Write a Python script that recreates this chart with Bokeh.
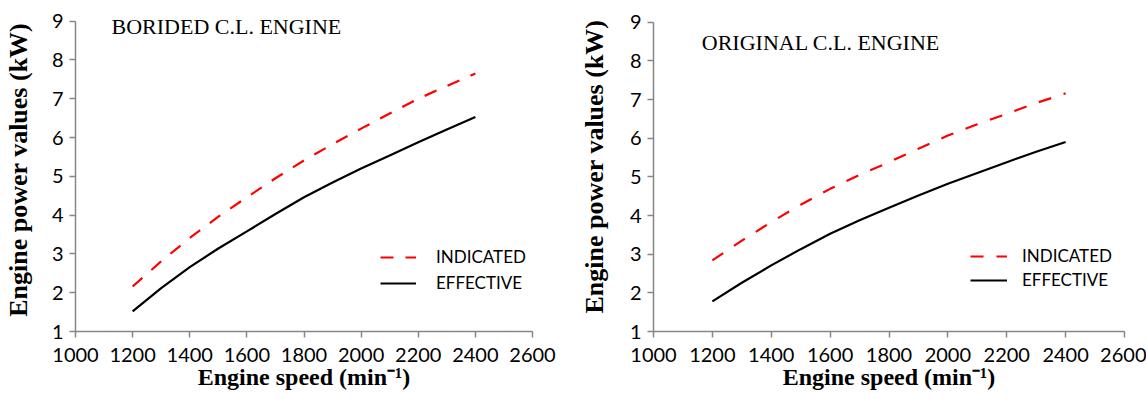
from bokeh.plotting import figure
from bokeh.models import Range1d, FixedTicker, Label, Legend, LegendItem
from bokeh.layouts import row
from bokeh.embed import file_html
from bokeh.resources import INLINE

speed = [1200, 1300, 1400, 1500, 1600, 1700, 1800, 1900, 2000, 2100, 2200, 2300, 2400]

borided_indicated = [2.16, 2.81, 3.41, 3.96, 4.46, 4.95, 5.41, 5.83, 6.23, 6.62, 7.00, 7.33, 7.65]
borided_effective = [1.52, 2.12, 2.66, 3.14, 3.58, 4.03, 4.46, 4.84, 5.20, 5.54, 5.88, 6.21, 6.53]

original_indicated = [2.84, 3.35, 3.83, 4.28, 4.69, 5.05, 5.38, 5.73, 6.07, 6.36, 6.63, 6.91, 7.16]
original_effective = [1.78, 2.26, 2.71, 3.13, 3.53, 3.88, 4.20, 4.52, 4.82, 5.10, 5.38, 5.65, 5.90]

x_ticks = [1000, 1200, 1400, 1600, 1800, 2000, 2200, 2400, 2600]
y_ticks = [1, 2, 3, 4, 5, 6, 7, 8, 9]

titles = ["BORIDED C.L. ENGINE", "ORIGINAL C.L. ENGINE"]
y_labels = ["Engine power values  (kW)", "Engine power values (kW)"]
x_label = "Engine speed (min\u207b\u00b9)"
series_names = ["INDICATED", "EFFECTIVE"]

AXIS_GRAY = "#868686"
TICK_FONT = "Lato"
SERIF = "Liberation Serif"


def make_panel(ind, eff, title, ylab, borders, y_top, title_pos, legend_loc,
               dash, glyph_w, standoff, spacing, ylab_standoff):
    bl, br = borders
    p = figure(width=573, height=399, output_backend="svg", toolbar_location=None,
               x_range=Range1d(1000, 2600), y_range=Range1d(1, y_top),
               min_border_left=bl, min_border_right=br,
               min_border_top=1, min_border_bottom=68)
    p.outline_line_color = None
    p.xgrid.visible = False
    p.ygrid.visible = False
    p.background_fill_color = "white"
    p.border_fill_color = "white"

    for ax in (p.xaxis[0], p.yaxis[0]):
        ax.axis_line_color = AXIS_GRAY
        ax.axis_line_width = 1.5
        ax.major_tick_line_color = AXIS_GRAY
        ax.major_tick_line_width = 1.5
        ax.minor_tick_line_color = None
        ax.major_tick_in = 0
        ax.major_tick_out = 6
        ax.major_label_text_font = TICK_FONT
        ax.major_label_text_font_size = "20px"
        ax.major_label_text_color = "black"
        ax.axis_label_text_font = SERIF
        ax.axis_label_text_font_style = "bold"
        ax.axis_label_text_color = "black"

    p.xaxis.axis_label_text_font_size = "24px"
    p.yaxis.axis_label_text_font_size = "26px"
    p.yaxis.bounds = (1, 9)
    p.xaxis.ticker = FixedTicker(ticks=x_ticks)
    p.yaxis.ticker = FixedTicker(ticks=y_ticks)
    p.xaxis.axis_label = x_label
    p.yaxis.axis_label = ylab
    p.xaxis.major_label_standoff = 10
    p.yaxis.major_label_standoff = 6
    p.xaxis.axis_label_standoff = -1
    p.yaxis.axis_label_standoff = ylab_standoff

    r_ind = p.line(speed, ind, line_color="#ff0000", line_width=2.2, line_dash=dash)
    r_eff = p.line(speed, eff, line_color="black", line_width=2.2)

    p.add_layout(Label(x=title_pos[0], y=title_pos[1], text=title,
                       text_font=SERIF, text_font_size="22px", text_color="black",
                       text_baseline="middle"))

    legend = Legend(items=[LegendItem(label=series_names[0], renderers=[r_ind]),
                           LegendItem(label=series_names[1], renderers=[r_eff])],
                    location=legend_loc, orientation="vertical",
                    background_fill_alpha=0, border_line_color=None,
                    label_text_font=TICK_FONT, label_text_font_size="17px",
                    label_text_color="black",
                    glyph_width=glyph_w, glyph_height=20, label_height=20,
                    label_standoff=standoff, spacing=spacing, padding=0, margin=0)
    p.add_layout(legend)
    return p


p1 = make_panel(borided_indicated, borided_effective, titles[0], y_labels[0],
                (75, 41), 9.507, (1126, 8.86), (305, 38), "13 12", 36, 20, 5, 16)
p2 = make_panel(original_indicated, original_effective, titles[1], y_labels[1],
                (80, 22), 9.536, (1164, 8.47), (317, 41), "13 13", 37, 15, 3, 18)

layout = row(p1, p2)

open("out.html", "w").write(file_html(layout, INLINE))
